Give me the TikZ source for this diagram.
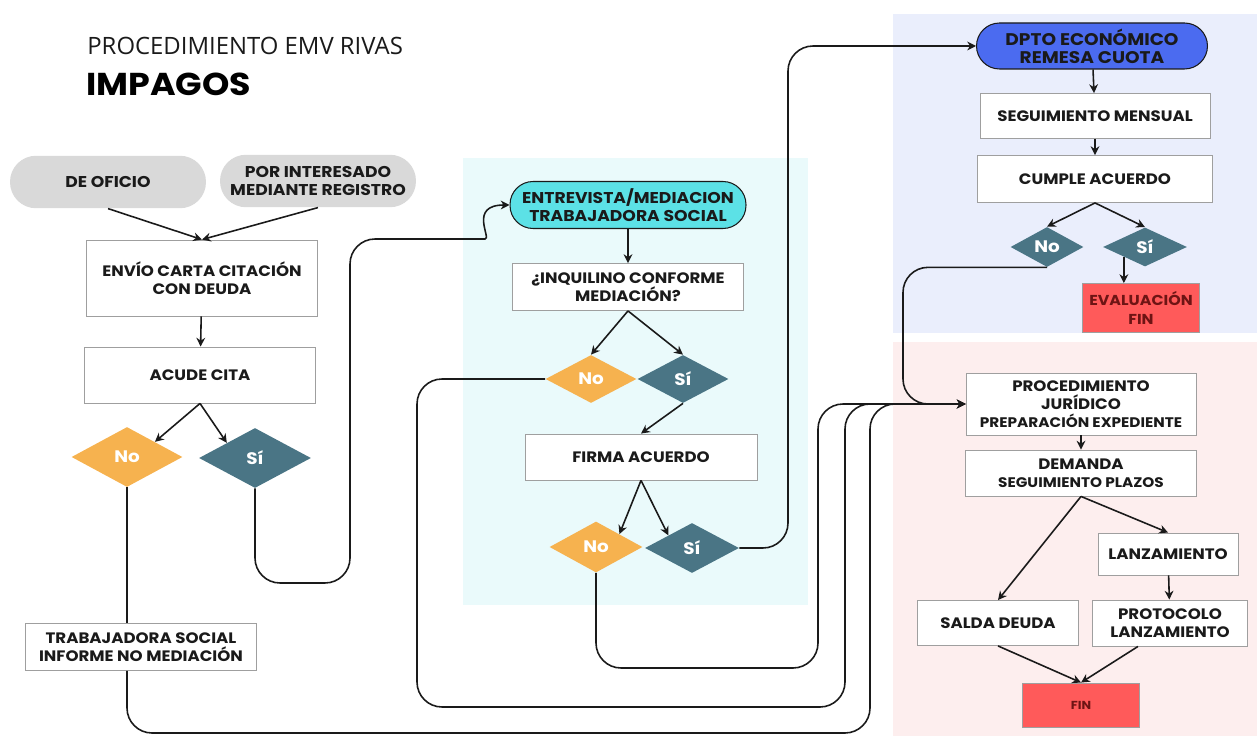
\documentclass[tikz,border=0pt]{standalone}
\usepackage{fontspec}
\setmainfont{Poppins}[FakeStretch=1.1]
\newfontfamily\titfont{Open Sans}
\usepackage{xcolor}
\usepackage{tikz}
\usetikzlibrary{shapes.geometric, arrows.meta, positioning, calc}
\definecolor{amarillo}{HTML}{F6B24F}
\definecolor{petroleo}{HTML}{4A7585}
\definecolor{cian}{HTML}{5CE1E6}
\definecolor{azul}{HTML}{4B6BF0}
\definecolor{rojo}{HTML}{FF5A5A}
\definecolor{gris}{HTML}{D9D9D9}
\definecolor{fondocian}{HTML}{EAFAFB}
\definecolor{fondoazul}{HTML}{EAEEFC}
\definecolor{fondorosa}{HTML}{FDEEEE}
\definecolor{granate}{HTML}{6E1414}
\definecolor{tinta}{HTML}{1A1A1A}
\tikzset{
  caja/.style={rectangle, draw=gray!75, line width=0.5pt, fill=white,
               align=center, inner sep=0pt, text=tinta,
               font=\fontsize{8.6}{10.3}\selectfont\bfseries},
  pilagris/.style={rectangle, rounded corners=0.52cm, fill=gris,
                   minimum height=1.05cm, align=center, inner sep=0pt,
                   text=tinta, font=\fontsize{8.9}{10.3}\selectfont\bfseries},
  pilacian/.style={rectangle, rounded corners=0.46cm, draw=tinta,
                   line width=0.6pt, fill=cian, align=center, inner sep=0pt,
                   text=tinta, font=\fontsize{8.9}{10.3}\selectfont\bfseries},
  pilaazul/.style={rectangle, rounded corners=0.46cm, draw=tinta,
                   line width=0.6pt, fill=azul, align=center, inner sep=0pt,
                   text=tinta, font=\fontsize{9.6}{10.4}\selectfont\bfseries},
  decno/.style={diamond, fill=amarillo, inner sep=0pt, text=white,
                font=\fontsize{9.5}{11}\selectfont\bfseries},
  decsi/.style={diamond, fill=petroleo, inner sep=0pt, text=white,
                font=\fontsize{9.5}{11}\selectfont\bfseries},
  finbox/.style={rectangle, draw=gray!75, line width=0.5pt, fill=rojo,
                 align=center, inner sep=0pt, text=granate,
                 font=\fontsize{8.2}{10.3}\selectfont\bfseries},
  arr/.style={-{Stealth[length=5pt,width=5pt]}, line width=0.9pt, tinta},
  lin/.style={line width=0.9pt, tinta},
}
\newcommand{\chica}{\fontsize{7.9}{9}\selectfont}

\begin{document}
\begin{tikzpicture}[x=0.02cm,y=-0.02cm]
  \useasboundingbox (0,0) rectangle (1257,736);
  % fondos
  \fill[fondocian] (463,158) rectangle (808,605);
  \fill[fondoazul] (893,14) rectangle (1257,333);
  \fill[fondorosa] (893,342) rectangle (1257,736);
  % titulo
  \node[anchor=base west, inner sep=0pt, text=tinta,
        font=\titfont\fontsize{13.6}{15}\selectfont] (titulo) at (87,55)
        {PROCEDIMIENTO EMV RIVAS};
  \node[anchor=base west, inner sep=0pt, text=black,
        font=\fontsize{18}{20}\selectfont\bfseries] (impagos) at (86,96)
        {IMPAGOS};
  % columna izquierda
  \node[pilagris, minimum width=3.92cm] (oficio) at (108,182) {DE OFICIO};
  \node[pilagris, minimum width=3.92cm] (interes) at (318,181)
        {POR INTERESADO\\MEDIANTE REGISTRO};
  \node[caja, minimum width=4.62cm, minimum height=1.52cm] (envio) at (202,278)
        {ENVÍO CARTA CITACIÓN\\CON DEUDA};
  \node[caja, minimum width=4.62cm, minimum height=1.12cm] (acude) at (200,375)
        {ACUDE CITA};
  \node[decno, minimum width=2.22cm, minimum height=1.2cm] (acno) at (127,457) {No};
  \node[decsi, minimum width=2.24cm, minimum height=1.2cm] (acsi) at (255,458) {Sí};
  \node[caja, minimum width=4.62cm, minimum height=0.94cm] (tsinf) at (141,647)
        {TRABAJADORA SOCIAL\\INFORME NO MEDIACIÓN};
  % mediacion
  \node[pilacian, minimum width=4.72cm, minimum height=0.94cm] (entrev) at (628,205)
        {ENTREVISTA/MEDIACION\\TRABAJADORA SOCIAL};
  \node[caja, minimum width=4.62cm, minimum height=0.94cm] (inq) at (628,287)
        {¿INQUILINO CONFORME\\MEDIACIÓN?};
  \node[decno, minimum width=1.82cm, minimum height=0.96cm] (inqno) at (591,379) {No};
  \node[decsi, minimum width=1.82cm, minimum height=0.96cm] (inqsi) at (683,379) {Sí};
  \node[caja, minimum width=4.64cm, minimum height=0.92cm] (firma) at (641,457)
        {FIRMA ACUERDO};
  \node[decno, minimum width=1.86cm, minimum height=1.02cm] (firno) at (596,547) {No};
  \node[decsi, minimum width=1.88cm, minimum height=1.0cm] (firsi) at (692,548) {Sí};
  % dpto economico
  \node[pilaazul, minimum width=4.62cm, minimum height=0.92cm] (dpto) at (1092,46)
        {DPTO ECONÓMICO\\REMESA CUOTA};
  \node[caja, minimum width=4.6cm, minimum height=0.9cm] (segui) at (1095,116)
        {SEGUIMIENTO MENSUAL};
  \node[caja, minimum width=4.7cm, minimum height=0.94cm] (cumple) at (1095,179)
        {CUMPLE ACUERDO};
  \node[decsi, minimum width=1.46cm, minimum height=0.8cm] (cumno) at (1047,247) {No};
  \node[decsi, minimum width=1.68cm, minimum height=0.78cm] (cumsi) at (1145,247) {Sí};
  \node[finbox, minimum width=2.34cm, minimum height=0.98cm] (evfin) at (1141,308)
        {EVALUACIÓN\\FIN};
  % juridico
  \node[caja, minimum width=4.6cm, minimum height=1.24cm] (procj) at (1081,404)
        {PROCEDIMIENTO\\JURÍDICO\\{\chica PREPARACIÓN EXPEDIENTE}};
  \node[caja, minimum width=4.62cm, minimum height=0.92cm] (demanda) at (1081,473)
        {DEMANDA\\{\chica SEGUIMIENTO PLAZOS}};
  \node[caja, minimum width=2.8cm, minimum height=0.84cm] (lanz) at (1168,554)
        {LANZAMIENTO};
  \node[caja, minimum width=3.22cm, minimum height=0.9cm] (salda) at (998,623)
        {SALDA DEUDA};
  \node[caja, minimum width=3.1cm, minimum height=0.92cm] (proto) at (1170,623)
        {PROTOCOLO\\LANZAMIENTO};
  \node[finbox, minimum width=2.34cm, minimum height=0.88cm,
        font=\fontsize{6.6}{8}\selectfont\bfseries] (fin) at (1081,705) {FIN};
  % conectores izquierda
  \draw[arr] (oficio.south) -- (envio.north);
  \draw[arr] (interes.south) -- (envio.north);
  \draw[arr] (envio) -- (acude);
  \draw[arr] (acude.south) -- (acno.north east);
  \draw[arr] (acude.south) -- (acsi.north west);
  \draw[lin] (acno.south) -- (acno.south |- tsinf.north);
  \draw[arr, rounded corners=0.5cm] (acno.south |- tsinf.south) |- (870,733) |- (procj.west);
  \draw[arr, rounded corners=0.5cm] (acsi.south) |- (350,583) |- (460,239)
        [sharp corners] .. controls (492,239) and (468,205) .. (entrev.west);
  % conectores mediacion
  \draw[arr] (entrev) -- (inq);
  \draw[arr] (inq.south) -- (inqno.north);
  \draw[arr] (inq.south) -- (inqsi.north);
  \draw[arr] (inqsi.south) -- (firma.north);
  \draw[arr] (firma.south) -- (firno.north east);
  \draw[arr] (firma.south) -- (firsi.north west);
  \draw[arr, rounded corners=0.5cm] (firsi.east) -| (788,46) -- (dpto.west);
  \draw[arr, rounded corners=0.5cm] (firno.south) |- (818,668) |- (procj.west);
  \draw[arr, rounded corners=0.5cm] (inqno.west) -| (417,707) -| (845,404) -- (procj.west);
  % conectores dpto economico
  \draw[arr] (dpto) -- (segui);
  \draw[arr] (segui) -- (cumple);
  \draw[arr] (cumple.south) -- (cumno.north);
  \draw[arr] (cumple.south) -- (cumsi.north);
  \draw[arr] (cumsi.south west) -- (cumsi.south west |- evfin.north);
  \draw[arr, rounded corners=0.5cm] (cumno.south) -| (903,404) -- (procj.west);
  % conectores juridico
  \draw[arr] (procj) -- (demanda);
  \draw[arr] (demanda.south) -- (salda.north);
  \draw[arr] (demanda.south) -- (lanz.north);
  \draw[arr] (lanz) -- (proto);
  \draw[arr] (salda.south) -- (fin.north);
  \draw[arr] ([xshift=-0.64cm]proto.south) -- (fin.north);
\end{tikzpicture}
\end{document}
